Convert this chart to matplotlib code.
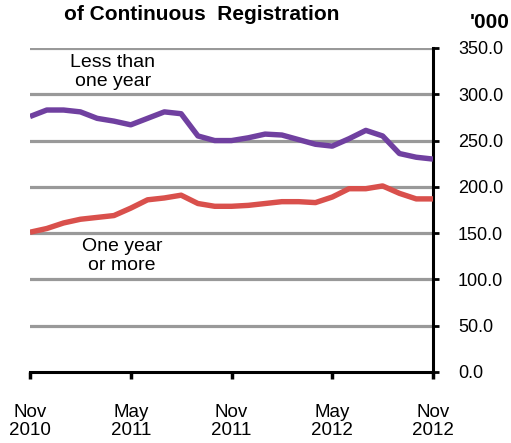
import matplotlib
matplotlib.use("Agg")
import matplotlib.pyplot as plt
from matplotlib.ticker import FormatStrFormatter

plt.rcParams['font.family'] = ['Liberation Sans', 'DejaVu Sans']

months = list(range(25))  # Nov 2010 .. Nov 2012
less_than_one_year = [276, 283, 283, 281, 274, 271, 267, 274, 281, 279, 255, 250,
                      250, 253, 257, 256, 251, 246, 244, 252, 261, 255, 236, 232, 230]
one_year_or_more = [151, 155, 161, 165, 167, 169, 177, 186, 188, 191, 182, 179,
                    179, 180, 182, 184, 184, 183, 189, 198, 198, 201, 193, 187, 187]
tick_pos = [0, 6, 12, 18, 24]
tick_labels = ["Nov\n2010", "May\n2011", "Nov\n2011", "May\n2012", "Nov\n2012"]
y_ticks = [0, 50, 100, 150, 200, 250, 300, 350]

W, H = 511, 443
fig = plt.figure(figsize=(W/100, H/100), dpi=100)
ax = fig.add_axes([30/W, (H-372)/H, 403/W, 324/H])

for y in y_ticks[1:]:
    ax.axhline(y, color='#999999', lw=2.3, zorder=1)

ax.plot(months, less_than_one_year, color='#7040A0', lw=3.9, zorder=3, solid_capstyle='butt')
ax.plot(months, one_year_or_more, color='#D9504C', lw=3.9, zorder=3, solid_capstyle='butt')

ax.set_xlim(0, 24)
ax.set_ylim(0, 350)
ax.yaxis.tick_right()
ax.set_yticks(y_ticks)
ax.yaxis.set_major_formatter(FormatStrFormatter('%.1f'))
ax.set_xticks(tick_pos)
ax.set_xticklabels(tick_labels)
for s in ['top', 'left']:
    ax.spines[s].set_visible(False)
for s in ['right', 'bottom']:
    ax.spines[s].set_linewidth(2.2)
    ax.spines[s].set_color('black')
ax.tick_params(axis='y', direction='out', length=4, width=2, labelsize=13, pad=14)
ax.tick_params(axis='x', direction='out', length=5, width=2.5, labelsize=13.5, pad=18)
for lbl in ax.get_xticklabels():
    lbl.set_linespacing(1.1)

fig.text(202/W, 1-15/H, "of Continuous  Registration", ha='center', va='center',
         fontsize=15, fontweight='bold')
fig.text(490/W, 1-22/H, "'000", ha='center', va='center', fontsize=15, fontweight='bold')
fig.text(113/W, 1-72/H, "Less than\none year", ha='center', va='center', fontsize=14,
         linespacing=1.15)
fig.text(122/W, 1-256/H, "One year\nor more", ha='center', va='center', fontsize=14,
         linespacing=1.15)

fig.savefig("out.png", dpi=100)
